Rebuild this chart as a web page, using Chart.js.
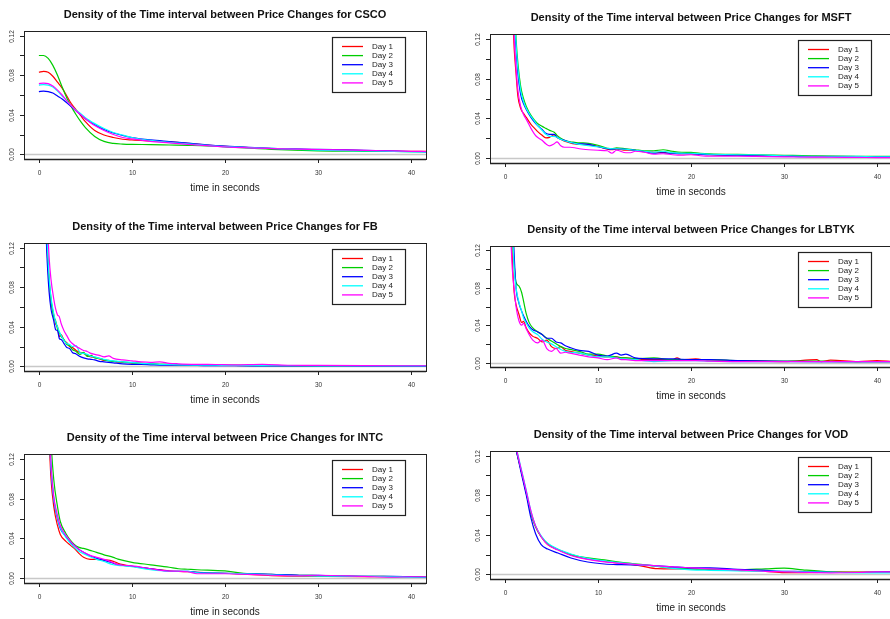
<!DOCTYPE html>
<html>
<head>
<meta charset="utf-8">
<script src="https://cdn.jsdelivr.net/npm/chart.js@4.4.1/dist/chart.umd.min.js"></script>
<style>
  body { margin: 0; background: #fff; overflow: hidden; width: 890px; height: 619px; position: relative; }
  canvas { position: absolute; }
</style>
</head>
<body>
<canvas id="csco"></canvas>
<canvas id="msft"></canvas>
<canvas id="fb"></canvas>
<canvas id="lbtyk"></canvas>
<canvas id="intc"></canvas>
<canvas id="vod"></canvas>
<script>
/* shared axis ticks and legend */
var dayLabels = ['Day 1', 'Day 2', 'Day 3', 'Day 4', 'Day 5'];
var xTickValues = [0, 10, 20, 30, 40];
var yTickValues = [0, 0.02, 0.04, 0.06, 0.08, 0.10, 0.12];
var yTickLabels = ['0.00', '', '0.04', '', '0.08', '', '0.12'];

/* CSCO */
var cscoTime = [0, 0.5, 1, 1.5, 2, 2.5, 3, 3.5, 4, 4.5, 5, 6, 7, 8, 9, 10, 12, 14, 16, 18, 20, 25, 30, 35, 40, 41.6];
var cscoDay1 = [0.083, 0.084, 0.083, 0.079, 0.073, 0.067, 0.059, 0.051, 0.045, 0.039, 0.033, 0.024, 0.0195, 0.017, 0.0152, 0.0145, 0.0135, 0.0125, 0.011, 0.0092, 0.008, 0.0058, 0.0045, 0.0037, 0.003, 0.003];
var cscoDay2 = [0.100, 0.100, 0.097, 0.090, 0.080, 0.068, 0.057, 0.048, 0.040, 0.033, 0.027, 0.018, 0.013, 0.011, 0.0103, 0.010, 0.0098, 0.0094, 0.009, 0.0085, 0.0075, 0.005, 0.0035, 0.003, 0.0027, 0.0026];
var cscoDay3 = [0.0635, 0.064, 0.0635, 0.062, 0.059, 0.056, 0.052, 0.048, 0.044, 0.040, 0.036, 0.030, 0.025, 0.0215, 0.019, 0.017, 0.0145, 0.0128, 0.0112, 0.0095, 0.0082, 0.006, 0.005, 0.004, 0.0028, 0.0025];
var cscoDay4 = [0.070, 0.0705, 0.070, 0.068, 0.064, 0.059, 0.054, 0.049, 0.0445, 0.041, 0.037, 0.031, 0.026, 0.022, 0.0195, 0.017, 0.014, 0.012, 0.0105, 0.009, 0.0078, 0.006, 0.0042, 0.0035, 0.0025, 0.0024];
var cscoDay5 = [0.0715, 0.072, 0.0715, 0.069, 0.065, 0.060, 0.054, 0.049, 0.044, 0.040, 0.036, 0.029, 0.024, 0.020, 0.017, 0.0155, 0.013, 0.0115, 0.010, 0.0088, 0.0075, 0.0058, 0.0048, 0.004, 0.003, 0.0028];

/* MSFT */
var msftTime = [0.85, 1.0, 1.2, 1.4, 1.7, 2.0, 2.3, 2.8, 3.2, 3.5, 4.0, 4.4, 4.8, 5.3, 5.6, 6.0, 6.4, 7.0, 7.5, 8, 9, 10, 11, 11.5, 12, 13, 13.5, 14, 15, 16, 17, 18, 19, 20, 21, 22, 25, 27, 30, 33, 35, 38, 40, 41.6];
var msftDay1 = [0.14, 0.11, 0.085, 0.062, 0.050, 0.045, 0.041, 0.034, 0.030, 0.027, 0.023, 0.0205, 0.021, 0.0235, 0.021, 0.019, 0.017, 0.0155, 0.0145, 0.014, 0.0135, 0.012, 0.009, 0.0085, 0.009, 0.008, 0.008, 0.0078, 0.0065, 0.006, 0.0058, 0.005, 0.0045, 0.0045, 0.004, 0.0035, 0.003, 0.0028, 0.0025, 0.002, 0.0018, 0.0017, 0.0017, 0.0016];
var msftDay2 = [0.20, 0.16, 0.12, 0.095, 0.072, 0.060, 0.052, 0.043, 0.038, 0.035, 0.032, 0.030, 0.028, 0.026, 0.023, 0.020, 0.018, 0.0165, 0.016, 0.0155, 0.015, 0.013, 0.010, 0.0095, 0.0105, 0.0095, 0.009, 0.0085, 0.0075, 0.0075, 0.0085, 0.007, 0.006, 0.0058, 0.005, 0.0045, 0.0038, 0.0035, 0.003, 0.0025, 0.0022, 0.002, 0.002, 0.0018];
var msftDay3 = [0.17, 0.14, 0.11, 0.085, 0.064, 0.055, 0.049, 0.041, 0.036, 0.033, 0.029, 0.025, 0.024, 0.024, 0.021, 0.019, 0.018, 0.016, 0.015, 0.0145, 0.014, 0.0115, 0.0095, 0.009, 0.0095, 0.009, 0.0085, 0.008, 0.0065, 0.005, 0.0055, 0.005, 0.0045, 0.0045, 0.004, 0.0035, 0.003, 0.0025, 0.002, 0.0015, 0.0015, 0.0015, 0.0015, 0.0015];
var msftDay4 = [0.18, 0.15, 0.115, 0.09, 0.068, 0.057, 0.050, 0.042, 0.037, 0.033, 0.028, 0.024, 0.022, 0.022, 0.021, 0.019, 0.0175, 0.016, 0.015, 0.014, 0.0125, 0.0115, 0.010, 0.0095, 0.0095, 0.009, 0.0085, 0.008, 0.007, 0.006, 0.007, 0.0055, 0.005, 0.005, 0.0045, 0.004, 0.0035, 0.0035, 0.0025, 0.002, 0.002, 0.0018, 0.0015, 0.0015];
var msftDay5 = [0.15, 0.12, 0.09, 0.068, 0.052, 0.044, 0.039, 0.030, 0.024, 0.021, 0.018, 0.0145, 0.0125, 0.0145, 0.0165, 0.0125, 0.011, 0.011, 0.0105, 0.0095, 0.0085, 0.008, 0.0075, 0.005, 0.008, 0.0055, 0.0055, 0.007, 0.006, 0.004, 0.0045, 0.0035, 0.003, 0.0035, 0.0025, 0.002, 0.002, 0.0018, 0.0013, 0.0012, 0.001, 0.0008, 0.0006, 0.0006];

/* FB */
var fbTime = [0.7, 0.9, 1.1, 1.3, 1.6, 1.8, 2.0, 2.2, 2.4, 2.7, 3.0, 3.3, 3.6, 4.0, 4.4, 4.8, 5.2, 5.6, 6.0, 6.5, 7.0, 7.5, 8, 9, 10, 11, 12, 13, 14, 15, 17, 19, 21, 24, 27, 30, 35, 40, 41.6];
var fbDay1 = [0.16, 0.115, 0.085, 0.066, 0.052, 0.043, 0.040, 0.030, 0.032, 0.026, 0.024, 0.020, 0.019, 0.016, 0.014, 0.013, 0.011, 0.0095, 0.009, 0.0075, 0.006, 0.006, 0.005, 0.004, 0.0035, 0.003, 0.0025, 0.002, 0.002, 0.0015, 0.0012, 0.001, 0.0008, 0.0006, 0.0005, 0.0004, 0.0003, 0.0003, 0.0003];
var fbDay2 = [0.17, 0.12, 0.088, 0.068, 0.050, 0.046, 0.038, 0.034, 0.030, 0.027, 0.022, 0.021, 0.017, 0.015, 0.012, 0.014, 0.010, 0.011, 0.0085, 0.008, 0.0065, 0.0055, 0.005, 0.0045, 0.0035, 0.003, 0.0025, 0.002, 0.0018, 0.0015, 0.0012, 0.001, 0.0008, 0.0006, 0.0005, 0.0004, 0.0003, 0.0003, 0.0003];
var fbDay3 = [0.15, 0.105, 0.075, 0.058, 0.046, 0.037, 0.036, 0.028, 0.027, 0.023, 0.019, 0.018, 0.014, 0.0125, 0.010, 0.0085, 0.0075, 0.007, 0.0065, 0.005, 0.0045, 0.004, 0.0035, 0.0025, 0.002, 0.0018, 0.0015, 0.0012, 0.001, 0.001, 0.0008, 0.0006, 0.0005, 0.0004, 0.0003, 0.0003, 0.0002, 0.0002, 0.0002];
var fbDay4 = [0.175, 0.125, 0.09, 0.07, 0.053, 0.045, 0.040, 0.035, 0.031, 0.026, 0.023, 0.022, 0.020, 0.021, 0.014, 0.013, 0.012, 0.010, 0.0095, 0.008, 0.007, 0.006, 0.0055, 0.0045, 0.004, 0.003, 0.0025, 0.002, 0.0018, 0.0015, 0.0012, 0.001, 0.0008, 0.0006, 0.0005, 0.0004, 0.0003, 0.0003, 0.0003];
var fbDay5 = [0.2, 0.15, 0.11, 0.088, 0.068, 0.058, 0.052, 0.050, 0.043, 0.036, 0.031, 0.026, 0.023, 0.020, 0.018, 0.016, 0.015, 0.013, 0.012, 0.011, 0.0095, 0.0105, 0.008, 0.0065, 0.0055, 0.0045, 0.004, 0.0045, 0.003, 0.0025, 0.002, 0.0018, 0.0015, 0.002, 0.001, 0.0008, 0.0006, 0.0005, 0.0005];

/* LBTYK */
var lbtykTime = [0.65, 0.8, 1.0, 1.2, 1.5, 1.8, 2.0, 2.3, 2.6, 3.0, 3.5, 4.0, 4.5, 5.0, 5.5, 6.0, 6.5, 7, 8, 9, 10, 11, 12, 12.5, 13, 14, 16, 18, 18.5, 19, 20.5, 22, 25, 30, 33.5, 34, 35, 38, 40, 41.6];
var lbtykDay1 = [0.15, 0.11, 0.075, 0.062, 0.052, 0.043, 0.044, 0.037, 0.032, 0.028, 0.026, 0.022, 0.024, 0.017, 0.015, 0.017, 0.013, 0.012, 0.010, 0.008, 0.007, 0.006, 0.006, 0.005, 0.005, 0.004, 0.003, 0.003, 0.005, 0.003, 0.004, 0.002, 0.002, 0.001, 0.003, 0.001, 0.0025, 0.001, 0.002, 0.001];
var lbtykDay2 = [0.19, 0.14, 0.105, 0.086, 0.082, 0.075, 0.066, 0.052, 0.043, 0.037, 0.033, 0.030, 0.026, 0.023, 0.020, 0.017, 0.015, 0.014, 0.012, 0.009, 0.009, 0.007, 0.006, 0.005, 0.005, 0.004, 0.005, 0.003, 0.003, 0.003, 0.003, 0.003, 0.002, 0.0015, 0.0015, 0.0015, 0.0012, 0.001, 0.001, 0.001];
var lbtykDay3 = [0.25, 0.17, 0.115, 0.080, 0.064, 0.055, 0.050, 0.044, 0.039, 0.035, 0.033, 0.030, 0.026, 0.026, 0.022, 0.021, 0.018, 0.016, 0.013, 0.012, 0.008, 0.007, 0.010, 0.008, 0.009, 0.005, 0.004, 0.004, 0.004, 0.0035, 0.003, 0.003, 0.002, 0.0012, 0.001, 0.001, 0.001, 0.001, 0.001, 0.001];
var lbtykDay4 = [0.2, 0.15, 0.10, 0.08, 0.065, 0.055, 0.048, 0.042, 0.037, 0.033, 0.030, 0.025, 0.022, 0.020, 0.017, 0.014, 0.012, 0.011, 0.010, 0.008, 0.006, 0.006, 0.005, 0.004, 0.004, 0.003, 0.001, 0.002, 0.002, 0.002, 0.002, 0.0015, 0.001, 0.001, 0.001, 0.001, 0.001, 0.001, 0.001, 0.001];
var lbtykDay5 = [0.13, 0.10, 0.078, 0.060, 0.045, 0.040, 0.042, 0.036, 0.030, 0.024, 0.021, 0.024, 0.015, 0.012, 0.015, 0.010, 0.011, 0.010, 0.008, 0.006, 0.005, 0.003, 0.005, 0.003, 0.003, 0.002, 0.002, 0.002, 0.002, 0.002, 0.002, 0.0015, 0.001, 0.001, 0.001, 0.001, 0.001, 0.001, 0.001, 0.001];

/* INTC */
var intcTime = [1.1, 1.3, 1.6, 2.0, 2.3, 2.9, 3.4, 3.8, 4.3, 4.8, 5.5, 6.2, 7.0, 8.0, 8.5, 10, 12, 14, 15, 16, 17, 20, 22, 25, 28, 30, 35, 38, 40, 41.6];
var intcDay1 = [0.14, 0.10, 0.072, 0.053, 0.044, 0.037, 0.033, 0.030, 0.025, 0.021, 0.019, 0.019, 0.0185, 0.017, 0.015, 0.012, 0.0095, 0.0075, 0.0068, 0.0065, 0.006, 0.005, 0.004, 0.0025, 0.002, 0.0018, 0.0015, 0.0015, 0.0015, 0.0012];
var intcDay2 = [0.20, 0.14, 0.099, 0.072, 0.057, 0.045, 0.038, 0.034, 0.031, 0.030, 0.028, 0.026, 0.0235, 0.021, 0.0192, 0.016, 0.0135, 0.011, 0.0095, 0.009, 0.0085, 0.0073, 0.005, 0.004, 0.003, 0.0027, 0.002, 0.0017, 0.0015, 0.0014];
var intcDay3 = [0.15, 0.11, 0.079, 0.060, 0.050, 0.042, 0.036, 0.033, 0.029, 0.026, 0.0225, 0.020, 0.018, 0.015, 0.0135, 0.012, 0.0095, 0.007, 0.0068, 0.0068, 0.006, 0.005, 0.0045, 0.004, 0.003, 0.0028, 0.002, 0.002, 0.0015, 0.0008];
var intcDay4 = [0.155, 0.112, 0.08, 0.061, 0.051, 0.041, 0.035, 0.031, 0.027, 0.0245, 0.0215, 0.019, 0.0168, 0.0135, 0.013, 0.0115, 0.0085, 0.007, 0.007, 0.007, 0.0055, 0.005, 0.0045, 0.0035, 0.0025, 0.0022, 0.002, 0.0015, 0.001, 0.001];
var intcDay5 = [0.16, 0.115, 0.082, 0.063, 0.053, 0.043, 0.037, 0.033, 0.029, 0.026, 0.023, 0.021, 0.019, 0.0155, 0.0135, 0.0125, 0.0095, 0.0072, 0.007, 0.0065, 0.0045, 0.0045, 0.004, 0.003, 0.0025, 0.003, 0.0018, 0.001, 0.0015, 0.0015];

/* VOD */
var vodTime = [1.0, 1.2, 1.4, 1.7, 2.3, 2.8, 3.3, 3.9, 4.6, 5.7, 7.1, 8.9, 10.7, 12.5, 14.6, 16.4, 18, 20, 22, 25, 28, 30, 32, 35, 38, 40, 41.6];
var vodDay1 = [0.135, 0.127, 0.119, 0.107, 0.082, 0.062, 0.048, 0.038, 0.030, 0.025, 0.0195, 0.0155, 0.013, 0.011, 0.0085, 0.0057, 0.0055, 0.0055, 0.005, 0.004, 0.003, 0.0017, 0.0017, 0.002, 0.0022, 0.002, 0.002];
var vodDay2 = [0.134, 0.126, 0.118, 0.107, 0.083, 0.062, 0.048, 0.038, 0.031, 0.025, 0.020, 0.0165, 0.0145, 0.012, 0.010, 0.008, 0.0065, 0.0055, 0.005, 0.0045, 0.0055, 0.0062, 0.0045, 0.0025, 0.002, 0.002, 0.0022];
var vodDay3 = [0.134, 0.126, 0.118, 0.105, 0.080, 0.057, 0.041, 0.030, 0.0255, 0.0215, 0.0165, 0.0124, 0.0104, 0.0097, 0.0092, 0.0085, 0.0075, 0.0065, 0.0065, 0.005, 0.004, 0.003, 0.0028, 0.002, 0.0018, 0.0022, 0.0025];
var vodDay4 = [0.138, 0.13, 0.121, 0.109, 0.085, 0.064, 0.049, 0.039, 0.0315, 0.0255, 0.0205, 0.016, 0.0135, 0.0115, 0.0095, 0.0081, 0.006, 0.0045, 0.004, 0.0035, 0.003, 0.003, 0.0025, 0.002, 0.0015, 0.0015, 0.0015];
var vodDay5 = [0.137, 0.129, 0.12, 0.108, 0.084, 0.064, 0.049, 0.038, 0.030, 0.0245, 0.019, 0.015, 0.0125, 0.011, 0.0095, 0.0085, 0.0075, 0.0065, 0.0055, 0.0045, 0.003, 0.0025, 0.002, 0.0015, 0.0018, 0.0025, 0.0025];

var dayColors = ['#FF0000', '#00CD00', '#0000FF', '#00FFFF', '#FF00FF'];
var font = '"Liberation Sans", Arial, Helvetica, sans-serif';

// canvas rect and plot box, page pixels
var panels = [
  { id: 'csco',  name: 'CSCO',  time: cscoTime,  days: [cscoDay1, cscoDay2, cscoDay3, cscoDay4, cscoDay5],
    canvas: [0, 0, 445, 200],     box: [24, 31, 426, 159] },
  { id: 'msft',  name: 'MSFT',  time: msftTime,  days: [msftDay1, msftDay2, msftDay3, msftDay4, msftDay5],
    canvas: [445, 0, 452, 200],   box: [490, 34, 892, 163] },
  { id: 'fb',    name: 'FB',    time: fbTime,    days: [fbDay1, fbDay2, fbDay3, fbDay4, fbDay5],
    canvas: [0, 200, 445, 210],   box: [24, 243, 426, 371] },
  { id: 'lbtyk', name: 'LBTYK', time: lbtykTime, days: [lbtykDay1, lbtykDay2, lbtykDay3, lbtykDay4, lbtykDay5],
    canvas: [445, 200, 452, 210], box: [490, 246, 892, 367] },
  { id: 'intc',  name: 'INTC',  time: intcTime,  days: [intcDay1, intcDay2, intcDay3, intcDay4, intcDay5],
    canvas: [0, 410, 445, 209],   box: [24, 454, 426, 583] },
  { id: 'vod',   name: 'VOD',   time: vodTime,   days: [vodDay1, vodDay2, vodDay3, vodDay4, vodDay5],
    canvas: [445, 410, 452, 209], box: [490, 451, 892, 579] }
];

/* R base-graphics look: zero line, box, ticks, titles, legend */
var rStyle = {
  id: 'rStyle',
  beforeDatasetsDraw: function (chart) {
    var ctx = chart.ctx, a = chart.chartArea;
    var y0 = Math.round(chart.scales.y.getPixelForValue(0)) + 0.5;
    ctx.save();
    ctx.strokeStyle = '#c8c8c8';
    ctx.lineWidth = 1.3;
    ctx.beginPath(); ctx.moveTo(a.left, y0); ctx.lineTo(a.right, y0); ctx.stroke();
    ctx.restore();
  },
  afterDraw: function (chart) {
    var ctx = chart.ctx, a = chart.chartArea, xs = chart.scales.x, ys = chart.scales.y;
    var opt = chart.options.plugins.rStyle;
    ctx.save();
    ctx.strokeStyle = '#222';
    ctx.lineWidth = 1;
    ctx.strokeRect(Math.round(a.left) + 0.5, Math.round(a.top) + 0.5, Math.round(a.right - a.left), Math.round(a.bottom - a.top));
    ctx.lineWidth = 1.6;
    ctx.beginPath(); ctx.moveTo(a.left, a.bottom + 0.5); ctx.lineTo(a.right, a.bottom + 0.5); ctx.stroke();

    // x axis
    ctx.lineWidth = 1;
    ctx.fillStyle = '#333';
    ctx.font = '6.5px ' + font;
    ctx.textAlign = 'center';
    ctx.textBaseline = 'middle';
    xTickValues.forEach(function (v) {
      var px = Math.round(xs.getPixelForValue(v)) + 0.5;
      ctx.beginPath(); ctx.moveTo(px, a.bottom); ctx.lineTo(px, a.bottom + 4); ctx.stroke();
      ctx.fillText(String(v), px, a.bottom + 14);
    });
    // y axis, labels turned like R's las=0
    yTickValues.forEach(function (v, i) {
      var py = Math.round(ys.getPixelForValue(v)) + 0.5;
      ctx.beginPath(); ctx.moveTo(a.left - 4, py); ctx.lineTo(a.left, py); ctx.stroke();
      if (yTickLabels[i]) {
        ctx.save();
        ctx.translate(a.left - 11.5, py);
        ctx.rotate(-Math.PI / 2);
        ctx.fillText(yTickLabels[i], 0, 0);
        ctx.restore();
      }
    });

    // title and axis label
    var cx = (a.left + a.right) / 2;
    ctx.fillStyle = '#111';
    ctx.font = 'bold 11px ' + font;
    ctx.fillText(opt.title, cx, a.top - 16.5);
    ctx.fillStyle = '#222';
    ctx.font = '10px ' + font;
    ctx.fillText('time in seconds', cx, a.bottom + 29);

    // legend, top right inside the box
    var lw = 73, lh = 55;
    var lx = a.right - 21 - lw, ly = a.top + 6;
    ctx.fillStyle = '#fff';
    ctx.fillRect(lx, ly, lw, lh);
    ctx.strokeStyle = '#222';
    ctx.lineWidth = 1.2;
    ctx.strokeRect(Math.round(lx) + 0.5, Math.round(ly) + 0.5, lw, lh);
    ctx.font = '8px ' + font;
    ctx.textAlign = 'left';
    ctx.fillStyle = '#222';
    dayLabels.forEach(function (lab, i) {
      var ry = ly + 9.5 + i * 9.1;
      ctx.strokeStyle = dayColors[i];
      ctx.lineWidth = 1.3;
      ctx.beginPath(); ctx.moveTo(lx + 10, ry); ctx.lineTo(lx + 31, ry); ctx.stroke();
      ctx.fillText(lab, lx + 40, ry);
    });
    ctx.restore();
  }
};

panels.forEach(function (p) {
  var cv = document.getElementById(p.id);
  cv.width = p.canvas[2];
  cv.height = p.canvas[3];
  cv.style.left = p.canvas[0] + 'px';
  cv.style.top = p.canvas[1] + 'px';

  var datasets = p.days.map(function (vals, i) {
    return {
      label: dayLabels[i],
      data: p.time.map(function (t, j) { return { x: t, y: vals[j] }; }),
      borderColor: dayColors[i],
      borderWidth: 1.2,
      pointRadius: 0,
      fill: false,
      order: 5 - i,   // later days on top, as lines() adds them in R
      cubicInterpolationMode: 'monotone'
    };
  });

  new Chart(cv, {
    type: 'line',
    data: { datasets: datasets },
    plugins: [rStyle],
    options: {
      responsive: false,
      animation: false,
      devicePixelRatio: 1,
      layout: {
        padding: {
          left: p.box[0] - p.canvas[0],
          top: p.box[1] - p.canvas[1],
          right: p.canvas[0] + p.canvas[2] - p.box[2],
          bottom: p.canvas[1] + p.canvas[3] - p.box[3]
        }
      },
      scales: {
        x: { type: 'linear', min: -1.6, max: 41.6, display: false },
        y: { type: 'linear', min: -0.0048, max: 0.1248, display: false }
      },
      plugins: {
        legend: { display: false },
        tooltip: { enabled: false },
        rStyle: { title: 'Density of the Time interval between Price Changes for ' + p.name }
      }
    }
  });
});
</script>
</body>
</html>
